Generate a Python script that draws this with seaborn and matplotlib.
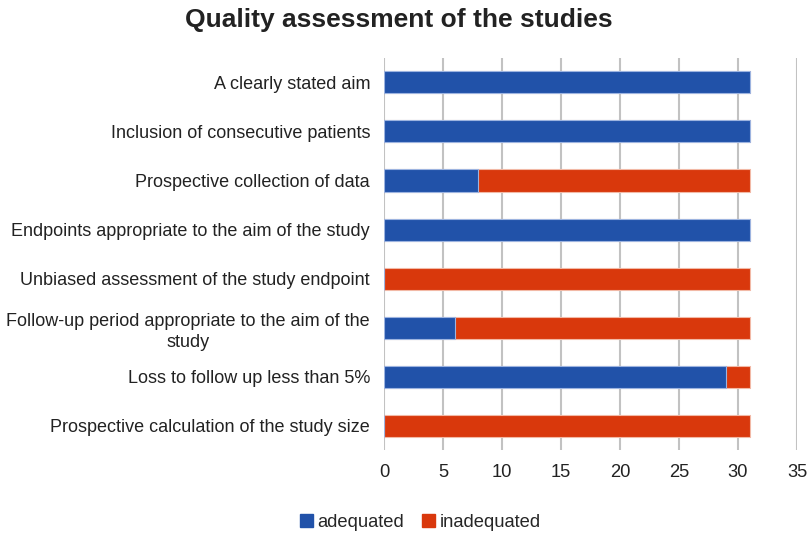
import matplotlib
matplotlib.use("Agg")
import matplotlib.pyplot as plt
from matplotlib.patches import Patch
import seaborn as sns
import pandas as pd

categories = [
    "A clearly stated aim",
    "Inclusion of consecutive patients",
    "Prospective collection of data",
    "Endpoints appropriate to the aim of the study",
    "Unbiased assessment of the study endpoint",
    "Follow-up period appropriate to the aim of the\nstudy",
    "Loss to follow up less than 5%",
    "Prospective calculation of the study size",
]
adequated = [31, 31, 8, 31, 0, 6, 29, 0]
inadequated = [0, 0, 23, 0, 31, 25, 2, 31]
x_ticks = [0, 5, 10, 15, 20, 25, 30, 35]

blue = "#2152a9"
red = "#d9380c"

sns.set_theme(style="white")
plt.rcParams["font.family"] = ["Liberation Sans", "DejaVu Sans"]

df = pd.DataFrame({"category": categories, "adequated": adequated, "inadequated": inadequated})
df["total"] = df["adequated"] + df["inadequated"]

fig = plt.figure(figsize=(8.1, 5.36), dpi=100)
ax = fig.add_axes([0.474, 0.160, 0.510, 0.732])

# stacked: total (red) underneath, adequated (blue) on top
sns.barplot(data=df, y="category", x="total", color=red, orient="h", width=0.45,
            saturation=1, edgecolor="#f2b9a6", linewidth=0.8, ax=ax, zorder=3)
sns.barplot(data=df, y="category", x="adequated", color=blue, orient="h", width=0.45,
            saturation=1, edgecolor="#9db4e0", linewidth=0.8, ax=ax, zorder=4)

ax.set_xlim(0, 35)
ax.set_ylim(7.5, -0.5)
ax.set_xticks(x_ticks)
ax.set_xlabel("")
ax.set_ylabel("")
ax.xaxis.grid(True, color="#c2c2c2", linewidth=1.5, zorder=0)
ax.set_axisbelow(True)
for s in ax.spines.values():
    s.set_visible(False)
ax.tick_params(axis="x", labelsize=13.2, colors="#222222", pad=10, length=0)
ax.tick_params(axis="y", labelsize=13, colors="#222222", pad=10, length=0)
for lbl in ax.get_yticklabels():
    lbl.set_multialignment("center")
    lbl.set_linespacing(1.35)

fig.suptitle("Quality assessment of the studies", x=0.492, y=0.986,
             fontsize=19, fontweight="bold", color="#222222")

handles = [Patch(color=blue, label="adequated"), Patch(color=red, label="inadequated")]
fig.legend(handles=handles, loc="center", bbox_to_anchor=(0.519, 0.026), ncol=2,
           frameon=False, fontsize=13.2, handlelength=0.7, handleheight=0.7,
           handletextpad=0.25, columnspacing=1.0)

fig.savefig("out.png", dpi=100)
